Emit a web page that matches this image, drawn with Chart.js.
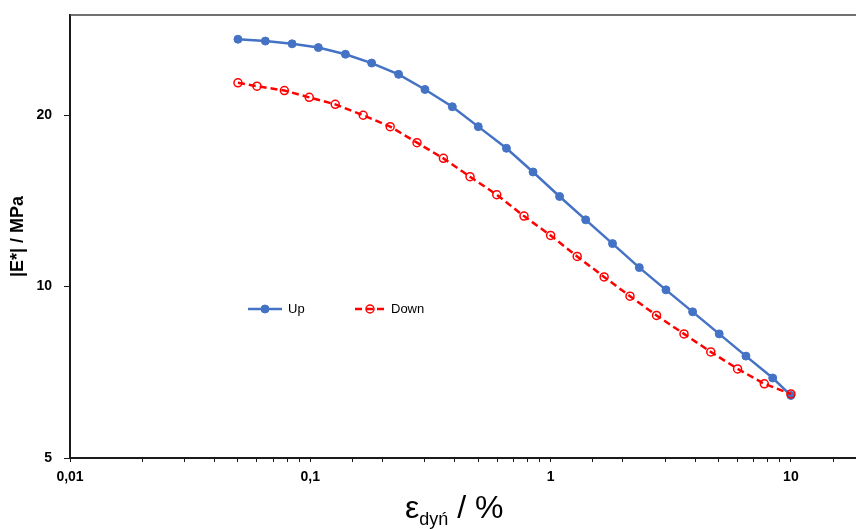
<!DOCTYPE html>
<html>
<head>
<meta charset="utf-8">
<script src="https://cdn.jsdelivr.net/npm/chart.js@4.4.1/dist/chart.umd.min.js"></script>
<style>
  html, body { margin: 0; padding: 0; background: #fff; }
  #wrap { width: 856px; height: 529px; position: relative; }
</style>
</head>
<body>
<div id="wrap"><canvas id="grafico"></canvas></div>
<script>
// Amplitude (%) e modulo |E*| (MPa)
const ampUp = [0.05, 0.065, 0.084, 0.108, 0.14, 0.18, 0.233, 0.30, 0.39, 0.50, 0.655, 0.845,
               1.09, 1.4, 1.81, 2.34, 3.02, 3.9, 5.03, 6.5, 8.4, 10];
const modUp = [27.2, 27.0, 26.7, 26.3, 25.6, 24.7, 23.6, 22.2, 20.7, 19.1, 17.5, 15.9,
               14.4, 13.1, 11.9, 10.8, 9.87, 9.03, 8.26, 7.55, 6.91, 6.44];

const ampDown = [0.05, 0.06, 0.078, 0.099, 0.127, 0.166, 0.215, 0.278, 0.358, 0.462, 0.597, 0.775,
                 1.0, 1.29, 1.67, 2.14, 2.76, 3.59, 4.64, 6.0, 7.75, 10];
const modDown = [22.8, 22.5, 22.1, 21.5, 20.9, 20.0, 19.1, 17.9, 16.8, 15.6, 14.5, 13.3,
                 12.3, 11.3, 10.4, 9.62, 8.90, 8.26, 7.68, 7.17, 6.75, 6.48];

const yTicks = [5, 10, 20];
const xLabels = {0.01: '0,01', 0.1: '0,1', 1: '1', 10: '10'};

const canvas = document.querySelector('#grafico');
Chart.defaults.font.family = '"Liberation Sans", Arial, sans-serif';
Chart.defaults.color = '#000';

const toPoints = (xs, ys) => xs.map((x, i) => ({x: x, y: ys[i]}));

// linha de cima do quadro + titulo do eixo x com subscrito + legenda dentro do grafico
const extras = {
    id: 'extras',
    afterDraw(chart) {
        const ctx = chart.ctx;
        const area = chart.chartArea;
        ctx.save();

        ctx.strokeStyle = '#404040';
        ctx.lineWidth = 1.3;
        ctx.beginPath();
        ctx.moveTo(area.left, area.top);
        ctx.lineTo(area.right, area.top);
        ctx.stroke();

        // titulo x: ε_dyń / %
        ctx.fillStyle = '#000';
        ctx.textBaseline = 'alphabetic';
        ctx.textAlign = 'left';
        const big = '32px "Liberation Sans", Arial';
        const small = '18px "Liberation Sans", Arial';
        ctx.font = big; const w1 = ctx.measureText('ε').width;
        ctx.font = small; const w2 = ctx.measureText('dyń').width;
        let x = 405;
        ctx.font = big; ctx.fillText('ε', x, 518); x += w1;
        ctx.font = small; ctx.fillText('dyń', x, 525); x += w2;
        ctx.font = big; ctx.fillText(' / %', x, 518);

        // legenda
        const items = [
            {ds: chart.data.datasets[1], x0: area.left + 178, x1: area.left + 212},
            {ds: chart.data.datasets[0], x0: area.left + 285, x1: area.left + 315}
        ];
        const ly = 309;
        ctx.font = '13px "Liberation Sans", Arial';
        ctx.textBaseline = 'middle';
        items.forEach(it => {
            const ds = it.ds;
            ctx.strokeStyle = ds.borderColor;
            ctx.lineWidth = ds.borderWidth;
            ctx.setLineDash(ds.borderDash || []);
            ctx.beginPath();
            ctx.moveTo(it.x0, ly);
            ctx.lineTo(it.x1, ly);
            ctx.stroke();
            ctx.setLineDash([]);
            ctx.beginPath();
            ctx.arc((it.x0 + it.x1) / 2, ly, ds.pointRadius, 0, Math.PI * 2);
            if (ds.pointBackgroundColor !== 'rgba(0,0,0,0)') {
                ctx.fillStyle = ds.pointBackgroundColor;
                ctx.fill();
            }
            ctx.lineWidth = ds.pointBorderWidth;
            ctx.strokeStyle = ds.pointBorderColor;
            ctx.stroke();
            ctx.fillStyle = '#000';
            ctx.fillText(ds.label, it.x1 + 6, ly);
        });
        ctx.restore();
    }
};

new Chart(canvas, {
    type: 'scatter',
    data: {
        datasets: [
            {
                label: 'Down',
                data: toPoints(ampDown, modDown),
                showLine: true,
                borderColor: '#FF0000',
                borderWidth: 2.5,
                borderDash: [7, 4],
                pointRadius: 4,
                pointBorderWidth: 1.5,
                pointBorderColor: '#FF0000',
                pointBackgroundColor: 'rgba(0,0,0,0)',
                order: 0
            },
            {
                label: 'Up',
                data: toPoints(ampUp, modUp),
                showLine: true,
                borderColor: '#4472C4',
                borderWidth: 2.5,
                pointRadius: 4,
                pointBorderWidth: 1,
                pointBorderColor: '#4472C4',
                pointBackgroundColor: '#4472C4',
                order: 1
            }
        ]
    },
    options: {
        responsive: true,
        maintainAspectRatio: false,
        animation: false,
        layout: {autoPadding: false, padding: {top: 15, left: 0, right: 0, bottom: 0}},
        plugins: {
            legend: {display: false},
            tooltip: {enabled: false}
        },
        scales: {
            x: {
                type: 'logarithmic',
                min: 0.01,
                max: 18.66,
                afterFit: scale => {
                    scale.height = 71;
                    scale.paddingLeft = 0;
                    scale.paddingRight = 0;
                },
                border: {display: true, color: '#1a1a1a', width: 2},
                grid: {display: true, drawOnChartArea: false, drawTicks: true, tickLength: 4, color: '#1a1a1a'},
                ticks: {
                    autoSkip: false,
                    maxRotation: 0,
                    padding: 7,
                    font: {size: 14, weight: 'bold'},
                    callback: function (value) {
                        for (const k in xLabels) {
                            if (Math.abs(value - Number(k)) < 1e-9) return xLabels[k];
                        }
                        return '';
                    }
                }
            },
            y: {
                type: 'logarithmic',
                min: 5,
                max: 30,
                afterFit: scale => {
                    scale.width = 70;
                    scale.paddingTop = 0;
                    scale.paddingBottom = 0;
                },
                afterBuildTicks: scale => { scale.ticks = yTicks.map(v => ({value: v})); },
                border: {display: true, color: '#1a1a1a', width: 2},
                grid: {display: true, drawOnChartArea: false, drawTicks: true, tickLength: 6, color: '#1a1a1a'},
                ticks: {
                    padding: 12,
                    font: {size: 14, weight: 'bold'},
                    callback: value => String(value)
                },
                title: {
                    display: true,
                    text: '|E*| / MPa',
                    padding: {top: 7, bottom: 0},
                    font: {size: 18, weight: 'bold'}
                }
            }
        }
    },
    plugins: [extras]
});
</script>
</body>
</html>
